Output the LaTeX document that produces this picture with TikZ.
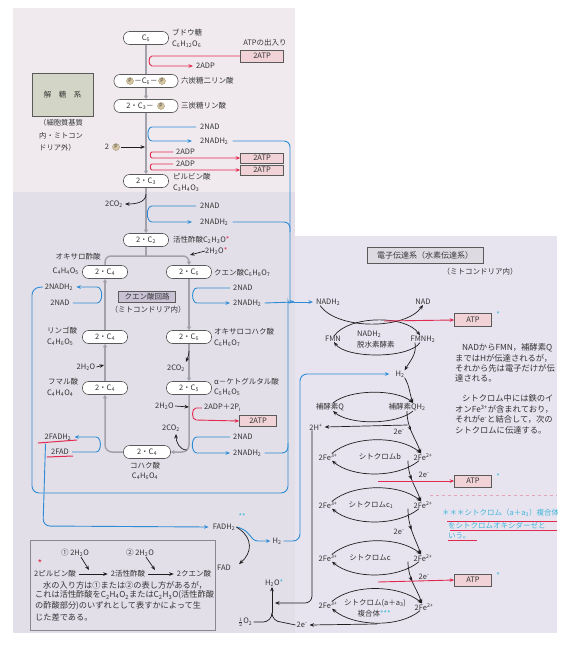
\documentclass[tikz,border=0pt]{standalone}
\usepackage{fontspec}
\setmainfont{Noto Sans CJK JP}
\usetikzlibrary{arrows.meta,decorations.markings}
\definecolor{txt}{HTML}{333333}
\definecolor{ndb}{HTML}{5A5A5A}
\definecolor{gline}{HTML}{A3A2AC}
\definecolor{blu}{HTML}{2E8BD6}
\definecolor{redl}{HTML}{E2294F}
\definecolor{ink}{HTML}{1E1E1E}
\definecolor{atpf}{HTML}{F1D3D7}
\definecolor{lav}{HTML}{C9C1D4}
\definecolor{kaif}{HTML}{D3D6C6}
\definecolor{titf}{HTML}{DEDAE2}
\definecolor{cyn}{HTML}{3FB4DA}
\definecolor{bgA}{HTML}{F0EAEF}
\definecolor{bgB}{HTML}{E2DFE8}
\definecolor{bgC}{HTML}{E7E4F0}
\definecolor{boxb}{HTML}{8A8790}
\definecolor{ptan}{HTML}{D8C6A2}
\newcommand{\sbs}[1]{\textsubscript{#1}}
\newcommand{\sps}[1]{\textsuperscript{#1}}
\begin{document}
\begin{tikzpicture}[x=1pt,y=1pt,
  lab/.style={inner sep=0pt,text=txt,font=\fontsize{7.5}{8}\selectfont},
  note/.style={inner sep=0pt,text=txt,anchor=west,font=\fontsize{8.3}{9}\selectfont},
  nd/.style={draw=ndb,fill=white,rounded corners=6pt,minimum height=13pt,inner sep=1pt,text=txt,font=\fontsize{7.5}{8}\selectfont,line width=0.6pt},
  atpbox/.style={draw=ndb,fill=atpf,minimum width=43pt,minimum height=10pt,inner sep=0pt,text=txt,font=\fontsize{7.5}{8}\selectfont,line width=0.6pt},
  pcirc/.style={circle,fill=ptan,draw=ptan!70!black,line width=0.3pt,inner sep=0pt,minimum size=7pt,font=\fontsize{5}{5}\selectfont,text=txt},
  gl/.style={draw=gline,line width=1.5pt},
  gar/.style={-{Triangle[length=3.5pt,width=4pt]}},
  bl/.style={draw=blu,line width=0.9pt},
  rl/.style={draw=redl,line width=0.9pt},
  kl/.style={draw=ink,line width=0.7pt},
  ar/.style={-{Stealth[length=4.5pt,width=3.6pt]}},
  midarr/.style={postaction={decorate},decoration={markings,mark=at position 0.45 with {\arrow{Stealth[length=4.5pt,width=3.6pt]}}}}
]
\useasboundingbox (0,0) rectangle (572,-645);
% backgrounds
\fill[bgA] (13,-8) rectangle (295,-192);
\fill[bgB] (13,-192) rectangle (295,-633);
\fill[bgC] (295,-236) rectangle (557,-633);

% ---------- glycolysis ----------
\node[draw=ndb,fill=kaif,minimum width=61pt,minimum height=43pt,inner sep=0pt,text=txt,font=\fontsize{7.5}{8}\selectfont,line width=0.6pt] (kai) at (62.5,-94.5) {解　糖　系};
\node[lab,anchor=west,font=\fontsize{7.3}{8}\selectfont] (kai1) at (39,-123) {（細胞質基質};
\node[lab,anchor=west,font=\fontsize{7.3}{8}\selectfont] (kai2) at (39,-136) {内・ミトコン};
\node[lab,anchor=west,font=\fontsize{7.3}{8}\selectfont] (kai3) at (39,-148) {ドリア外）};

\node[nd,minimum width=45pt] (c6) at (146,-38) {C\sbs{6}};
\node[lab,anchor=west] (glc) at (172,-33) {ブドウ糖};
\node[lab,anchor=west] (glcf) at (172,-44) {C\sbs{6}H\sbs{12}O\sbs{6}};
\node[lab] (atpio) at (265,-43) {ATPの出入り};
\node[atpbox,minimum height=12pt] (atp0) at (262,-56) {2ATP};
\node[lab,anchor=west] (adp0) at (196,-66) {2ADP};

\node[nd,minimum width=64pt] (pcp) at (146,-81) {};
\node[pcirc] (pa1) at (130,-81) {P};
\node[lab] (pcc) at (146,-81) {－C\sbs{6}－};
\node[pcirc] (pa2) at (162,-81) {P};
\node[lab,anchor=west] (pcpl) at (181,-81) {六炭糖二リン酸};

\node[nd,minimum width=64pt] (c3p) at (146,-106) {};
\node[lab] (c3t) at (140,-106) {2・C\sbs{3}－};
\node[pcirc] (pa3) at (161,-106) {P};
\node[lab,anchor=west] (c3l) at (181,-106) {三炭糖リン酸};

\node[lab,anchor=west] (nad1) at (200,-127) {2NAD};
\node[lab,anchor=west] (nadh1) at (200,-141) {2NADH\sbs{2}};
\node[lab] (two) at (107,-147) {2};
\node[pcirc] (pa4) at (116,-147) {P};
\node[lab,anchor=west] (adp1) at (176,-152) {2ADP};
\node[lab,anchor=west] (adp2) at (176,-164) {2ADP};
\node[atpbox] (atp1) at (262,-158) {2ATP};
\node[atpbox] (atp2) at (262,-170) {2ATP};

\node[nd,minimum width=45pt] (pyr) at (146,-181) {2・C\sbs{3}};
\node[lab,anchor=west] (pyrl) at (173,-177) {ピルビン酸};
\node[lab,anchor=west] (pyrf) at (173,-188) {C\sbs{3}H\sbs{4}O\sbs{3}};
\node[lab] (co2a) at (114,-204) {2CO\sbs{2}};
\node[lab,anchor=west] (nad2) at (200,-206) {2NAD};
\node[lab,anchor=west] (nadh2) at (200,-222) {2NADH\sbs{2}};
\node[nd,minimum width=45pt] (acet) at (146,-240) {2・C\sbs{2}};
\node[lab,anchor=west] (acetl) at (173,-240) {活性酢酸C\sbs{2}H\sbs{3}O\textcolor{redl}{*}};
\node[lab,anchor=west] (h2oa) at (205,-251) {2H\sbs{2}O\textcolor{redl}{*}};

% ---------- citric acid cycle ----------
\node[nd,minimum width=45pt] (oxa) at (105,-272) {2・C\sbs{4}};
\node[lab] (oxal) at (78,-257) {オキサロ酢酸};
\node[lab,anchor=east] (oxaf) at (79,-271) {C\sbs{4}H\sbs{4}O\sbs{5}};
\node[nd,minimum width=45pt] (cit) at (189,-272) {2・C\sbs{6}};
\node[lab,anchor=west] (citl) at (214,-273) {クエン酸C\sbs{6}H\sbs{8}O\sbs{7}};
\node[draw=ndb,fill=lav,minimum width=57pt,minimum height=11pt,inner sep=0pt,text=txt,font=\fontsize{7.5}{8}\selectfont,line width=0.6pt] (cycb) at (147,-297) {クエン酸回路};
\node[lab] (cycm) at (148,-310) {（ミトコンドリア内）};
\node[lab] (nadh4) at (59,-287) {2NADH\sbs{2}};
\node[lab] (nad4) at (60,-303) {2NAD};
\node[lab,anchor=west] (nad3) at (233,-288) {2NAD};
\node[lab,anchor=west] (nadh3) at (233,-303) {2NADH\sbs{2}};
\node[nd,minimum width=45pt] (mal) at (105,-337) {2・C\sbs{4}};
\node[lab,anchor=west] (mall) at (47,-331) {リンゴ酸};
\node[lab,anchor=west] (malf) at (47,-342) {C\sbs{4}H\sbs{6}O\sbs{5}};
\node[nd,minimum width=45pt] (oxs) at (189,-337) {2・C\sbs{6}};
\node[lab,anchor=west] (oxsl) at (214,-332) {オキサロコハク酸};
\node[lab,anchor=west] (oxsf) at (214,-343) {C\sbs{6}H\sbs{6}O\sbs{7}};
\node[lab] (h2ob) at (86,-367) {2H\sbs{2}O};
\node[lab] (co2b) at (176,-368) {2CO\sbs{2}};
\node[nd,minimum width=45pt] (fum) at (105,-388) {2・C\sbs{4}};
\node[lab,anchor=west] (fuml) at (48,-382) {フマル酸};
\node[lab,anchor=west] (fumf) at (47,-393) {C\sbs{4}H\sbs{4}O\sbs{4}};
\node[nd,minimum width=45pt] (akg) at (189,-388) {2・C\sbs{5}};
\node[lab,anchor=west] (akgl) at (214,-382) {α－ケトグルタル酸};
\node[lab,anchor=west] (akgf) at (214,-392) {C\sbs{5}H\sbs{6}O\sbs{5}};
\node[lab,anchor=west] (h2oc) at (155,-406) {2H\sbs{2}O};
\node[lab,anchor=west] (adp3) at (204,-408) {2ADP＋2P\sbs{i}};
\node[atpbox,minimum width=37pt,minimum height=11pt] (atp3) at (258,-421) {2ATP};
\node[lab] (co2c) at (171,-428) {2CO\sbs{2}};
\node[lab] (fadh) at (58,-437) {2FADH\sbs{2}};
\node[lab] (fad) at (60,-452) {2FAD};
\node[lab,anchor=west] (nad5) at (233,-437) {2NAD};
\node[lab,anchor=west] (nadh5) at (233,-453) {2NADH\sbs{2}};
\node[nd,minimum width=47pt] (suc) at (147,-452) {2・C\sbs{4}};
\node[lab] (sucl) at (145,-466) {コハク酸};
\node[lab] (sucf) at (145,-476) {C\sbs{4}H\sbs{6}O\sbs{4}};

\node[lab] (fadh2) at (224,-527) {FADH\sbs{2}};
\node[lab,text=cyn] (fst) at (242,-517) {**};
\node[lab] (h2m) at (277,-541) {H\sbs{2}};
\node[lab] (fad2) at (224,-568) {FAD};

% gray connectors
\draw[gl] (c6.south) -- (pcp.north);
\draw[gl,gar] (pcp.south) -- (c3p.north);
\draw[gl,gar] (c3p.south) -- (pyr.north);
\draw[gl,gar] (pyr.south) -- (acet.north);
\draw[gl] (acet.south) -- (146,-256);
\draw[gl,gar,rounded corners=6pt] (oxa.north) -- (105,-256) -- (189,-256) -- (cit.north);
\draw[gl,gar] (cit.south) -- (oxs.north);
\draw[gl,gar] (oxs.south) -- (akg.north);
\draw[gl,gar,rounded corners=7pt] (akg.south) -- (189,-452) -- (suc.east);
\draw[gl,gar,rounded corners=7pt] (suc.west) -- (105,-452) -- (fum.south);
\draw[gl,gar] (fum.north) -- (mal.south);
\draw[gl,gar] (mal.north) -- (oxa.south);

% red
\draw[rl,ar] (atp0.west) -- (152,-56) to[out=180,in=180] (152,-66) -- ([xshift=-3pt]adp0.west);
\draw[rl,ar] ([xshift=-3pt]adp1.west) -- (152,-152) to[out=180,in=180] (152,-158) -- (atp1.west);
\draw[rl,ar] ([xshift=-3pt]adp2.west) -- (152,-164) to[out=180,in=180] (152,-170) -- (atp2.west);
\draw[rl,ar] ([xshift=-2pt]adp3.west) -- (196,-408) to[out=180,in=180] (196,-420) -- (atp3.west);
\draw[rl,line width=1pt] (38,-443) -- (77,-440);
\draw[rl,line width=1pt] (47,-457) -- (73,-456);

% black small arrows
\draw[kl,ar] ([xshift=1pt]pa4.east) -- (145,-147);
\draw[kl,ar] (146,-194) to[out=-90,in=0] ([xshift=2pt]co2a.east);
\draw[kl,ar] (h2oa.west) -- (190,-255);
\draw[kl,ar] ([xshift=1pt]h2ob.east) -- (104,-365);
\draw[kl,ar] (189,-351) to[out=-90,in=70] (186,-362);
\draw[kl,ar] ([xshift=1pt]h2oc.east) -- (189,-407);
\draw[kl,ar] (187,-450) to[out=180,in=-90] (176,-434);

% blue
\coordinate (brace) at (294,-302);
\draw[bl,ar] ([xshift=-4pt]nad1.west) -- (152,-127) to[out=180,in=180] (152,-141) -- ([xshift=-8pt]nadh1.west);
\draw[bl,ar] ([xshift=-4pt]nad2.west) -- (152,-206) to[out=180,in=180] (152,-222) -- ([xshift=-8pt]nadh2.west);
\draw[bl,rounded corners=6pt] ([xshift=4pt]nadh1.east) -- (290,-141) -- (290,-296) to[out=-90,in=180] (brace);
\draw[bl,rounded corners=6pt] ([xshift=4pt]nadh2.east) -- (290,-222) -- (290,-232);
\draw[bl,ar] ([xshift=-3pt]nad3.west) -- (197,-288) to[out=180,in=180] (197,-303) -- ([xshift=-3pt]nadh3.west);
\draw[bl] ([xshift=3pt]nadh3.east) -- (brace);
\draw[bl,ar] ([xshift=3pt]nad4.east) -- (97,-303) to[out=0,in=0] (97,-287) -- ([xshift=3pt]nadh4.east);
\draw[bl,rounded corners=7pt] ([xshift=-2pt]nadh4.west) -- (32,-288) -- (32,-493) -- (288,-493) -- (288,-308) to[out=90,in=180] (brace);
\draw[bl,ar] ([xshift=-3pt]nad5.west) -- (197,-437) to[out=180,in=180] (197,-453) -- ([xshift=-3pt]nadh5.west);
\draw[bl,rounded corners=6pt] ([xshift=3pt]nadh5.east) -- (288,-453) -- (288,-443);
\draw[bl,ar] ([xshift=3pt]fad.east) -- (96,-452) to[out=0,in=0] (96,-437) -- ([xshift=3pt]fadh.east);
\draw[bl,ar,rounded corners=7pt] ([shift={(1pt,-3pt)}]fadh.south west) -- (43,-526) -- ([xshift=-4pt]fadh2.west);
\draw[bl,ar] ([xshift=1pt]fadh2.east) .. controls (251,-530) and (250,-541) .. (258,-541) -- ([xshift=-2pt]h2m.west);
\draw[kl,ar] ([xshift=1pt]fadh2.east) .. controls (254,-538) and (252,-553) .. ([shift={(8pt,1pt)}]fad2.north east);

% ---------- note box ----------
\node[draw=boxb,line width=0.6pt,minimum width=185pt,minimum height=90pt,inner sep=0pt] (notebox) at (122.5,-585) {};
\node[lab,font=\fontsize{7.5}{8}\selectfont] (w1) at (75,-553) {① 2H\sbs{2}O};
\node[lab,font=\fontsize{7.5}{8}\selectfont] (w2) at (140,-553) {② 2H\sbs{2}O};
\node[lab,text=redl,font=\fontsize{10}{10}\selectfont] (rs) at (40,-564) {*};
\node[lab,font=\fontsize{7.5}{8}\selectfont] (pa) at (55,-574) {2ピルビン酸};
\node[lab,font=\fontsize{7.5}{8}\selectfont] (pb) at (128,-574) {2活性酢酸};
\node[lab,font=\fontsize{7.5}{8}\selectfont] (pc2) at (194,-574) {2クエン酸};
\draw[kl,ar] ([xshift=3pt]pa.east) -- ([xshift=-3pt]pb.west);
\draw[kl,ar] ([xshift=3pt]pb.east) -- ([xshift=-3pt]pc2.west);
\draw[kl,ar] ([xshift=6pt]w1.south) -- (89,-570);
\draw[kl,ar] ([xshift=6pt]w2.south) -- (155,-570);
\node[note,font=\fontsize{8.2}{9}\selectfont] (n1) at (43,-585) {水の入り方は①または②の表し方があるが，};
\node[note,font=\fontsize{8.2}{9}\selectfont] (n2) at (35,-595) {これは活性酢酸をC\sbs{2}H\sbs{4}O\sbs{2}またはC\sbs{2}H\sbs{3}O(活性酢酸};
\node[note,font=\fontsize{8.2}{9}\selectfont] (n3) at (35,-606) {の酢酸部分)のいずれとして表すかによって生};
\node[note,font=\fontsize{8.2}{9}\selectfont] (n4) at (35,-617) {じた差である。};

% ---------- electron transport ----------
\node[draw=ndb,fill=titf,minimum width=116pt,minimum height=16pt,inner sep=0pt,font=\fontsize{8}{9}\selectfont,text=txt,line width=0.6pt] (etit) at (425,-255) {電子伝達系（水素伝達系）};
\node[lab,font=\fontsize{7.5}{8}\selectfont] (etim) at (480,-272) {（ミトコンドリア内）};
\node[lab,anchor=west] (nadhE) at (316,-302) {NADH\sbs{2}};
\node[lab] (nadE) at (423,-302) {NAD};
\node[atpbox,minimum width=37pt,minimum height=13pt] (atpE1) at (473,-320) {ATP};
\node[lab,text=cyn] (se1) at (498,-315) {*};
\node[lab] (fmn) at (333,-339) {FMN};
\node[lab] (fmnh) at (423,-339) {FMNH\sbs{2}};
\node[lab,anchor=west] (dh1) at (357,-334) {NADH\sbs{2}};
\node[lab,anchor=west] (dh2) at (357,-345) {脱水素酵素};
\node[lab] (h2e) at (400,-374) {H\sbs{2}};
\node[lab] (qL) at (330,-407) {補酵素Q};
\node[lab] (qR) at (407,-407) {補酵素QH\sbs{2}};
\node[lab] (h2p) at (316,-427) {2H\sps{+}};
\node[lab] (e1) at (399,-432) {2e\sps{-}};
\node[lab] (bL) at (328,-457) {2Fe\sps{3+}};
\node[lab] (bM) at (380,-457) {シトクロムb};
\node[lab] (bR) at (423,-457) {2Fe\sps{2+}};
\node[lab] (e2) at (424,-475) {2e\sps{-}};
\node[atpbox,minimum width=37pt,minimum height=12pt] (atpE2) at (473,-481) {ATP};
\node[lab,text=cyn] (se2) at (498,-477) {*};
\node[lab] (c1L) at (328,-505) {2Fe\sps{3+}};
\node[lab] (c1M) at (371,-505) {シトクロムc\sbs{1}};
\node[lab] (c1R) at (423,-505) {2Fe\sps{2+}};
\node[lab] (e3) at (399,-532) {2e\sps{-}};
\node[lab] (cL) at (328,-558) {2Fe\sps{3+}};
\node[lab] (cM) at (370,-558) {シトクロムc};
\node[lab] (cR) at (423,-558) {2Fe\sps{2+}};
\node[lab] (e4) at (424,-577) {2e\sps{-}};
\node[atpbox,minimum width=37pt,minimum height=12pt] (atpE3) at (473,-580) {ATP};
\node[lab,text=cyn] (se3) at (498,-576) {*};
\node[lab] (aL) at (328,-605) {2Fe\sps{3+}};
\node[lab] (aM1) at (375,-603) {シトクロム(a＋a\sbs{3})};
\node[lab] (aM2) at (374,-614) {複合体\textcolor{cyn}{***}};
\node[lab] (aR) at (424,-607) {2Fe\sps{2+}};
\node[lab] (e5) at (302,-625) {2e\sps{-}};
\node[lab,anchor=west] (h2o) at (265,-583) {H\sbs{2}O\textcolor{cyn}{*}};
\node[lab] (half) at (245,-622) {$\frac{1}{2}$O\sbs{2}};

% notes right
\begin{scope}
\clip (295,-236) rectangle (557,-633);
\node[note] (r1) at (462,-348) {NADからFMN，補酵素Q};
\node[note] (r2) at (455,-358) {まではHが伝達されるが，};
\node[note] (r3) at (455,-368) {それから先は電子だけが伝};
\node[note] (r4) at (455,-378) {達される。};
\node[note] (r5) at (462,-398) {シトクロム中には鉄のイ};
\node[note] (r6) at (455,-409) {オンFe\sps{3+}が含まれており，};
\node[note] (r7) at (455,-419) {それがe\sps{-}と結合して，次の};
\node[note] (r8) at (455,-430) {シトクロムに伝達する。};
\node[lab,anchor=west,text=cyn] (cy1) at (442,-513) {＊＊＊シトクロム（a＋a\sbs{3}）複合体};
\node[lab,anchor=west,text=cyn] (cy2) at (448,-526) {をシトクロムオキシダーゼと};
\node[lab,anchor=west,text=cyn] (cy3) at (448,-536) {いう。};
\draw[rl,line width=0.8pt] (447,-521) -- (557,-521);
\draw[rl,line width=0.8pt] (450,-530) -- (557,-530);
\draw[rl,line width=0.8pt] (448,-540) -- (477,-540);
\draw[draw=redl!35!bgC,line width=0.6pt,dashed] (430,-495) -- (557,-495);
\end{scope}

% ETC connectors
\draw[bl,ar] (brace) -- ([xshift=-3pt]nadhE.west);
\draw[kl,ar] ([xshift=-8pt]nadhE.south) to[out=-55,in=-125,looseness=0.75] (nadE.south);
\draw[kl,ar] ([xshift=1pt]fmn.north) to[out=55,in=125,looseness=0.75] ([xshift=-3pt]fmnh.north);
\draw[rl,ar] (384,-321) -- (atpE1.west);
\draw[kl,ar] ([xshift=-3pt]fmnh.south) to[out=-125,in=-55,looseness=0.6] ([xshift=1pt]fmn.south);
\draw[kl,ar] ([xshift=-8pt]fmnh.south) to[out=-80,in=60] (h2e.north east);
\draw[bl,ar,rounded corners=7pt] ([xshift=2pt]h2m.east) -- (300,-541) -- (300,-374) -- ([xshift=-6pt]h2e.west);
\draw[kl,ar] (h2e.south east) to[out=-60,in=110] ([xshift=6pt]qR.north);
\draw[kl,ar] ([xshift=3pt]qL.north) to[out=40,in=140,looseness=0.7] ([xshift=6pt]qR.north);
\draw[kl,ar] ([xshift=6pt]qR.south) to[out=-140,in=-40,looseness=0.7] ([xshift=3pt]qL.south);
\coordinate (qs) at (407.5,-425);
\draw[kl,ar] (qs) -- ([xshift=2pt]h2p.east);
\draw[kl,ar,midarr] (qR.south) to[out=-90,in=110] ([xshift=-2pt]bR.north);
% cyt b
\draw[kl,ar] ([xshift=4pt]bL.north) to[out=40,in=140,looseness=0.8] ([xshift=-2pt]bR.north);
\draw[kl,ar] ([xshift=-4pt]bR.south) to[out=-140,in=-40,looseness=0.8] ([xshift=4pt]bL.south);
\draw[kl,ar,midarr] ([xshift=-15pt]bR.south) to[out=-90,in=110] ([xshift=-2pt]c1R.north);
\draw[rl,ar] (378,-481) -- (atpE2.west);
% cyt c1
\draw[kl,ar] ([xshift=4pt]c1L.north) to[out=40,in=140,looseness=0.8] ([xshift=-2pt]c1R.north);
\draw[kl,ar] ([xshift=-4pt]c1R.south) to[out=-140,in=-40,looseness=0.8] ([xshift=4pt]c1L.south);
\draw[kl,ar,midarr] ([xshift=-15pt]c1R.south) to[out=-90,in=110] ([xshift=-2pt]cR.north);
% cyt c
\draw[kl,ar] ([xshift=4pt]cL.north) to[out=40,in=140,looseness=0.8] ([xshift=-2pt]cR.north);
\draw[kl,ar] ([xshift=-4pt]cR.south) to[out=-140,in=-40,looseness=0.8] ([xshift=4pt]cL.south);
\draw[kl,ar,midarr] ([xshift=-15pt]cR.south) to[out=-90,in=110] ([xshift=-2pt]aR.north);
\draw[rl,ar] (378,-582) -- (atpE3.west);
% cyt a
\draw[kl,ar] ([xshift=4pt]aL.north) to[out=40,in=140,looseness=0.8] ([xshift=-2pt]aR.north);
\draw[kl,ar] ([xshift=-4pt]aR.south) to[out=-140,in=-40,looseness=0.8] ([xshift=4pt]aL.south);
\draw[kl,ar] (377,-624) -- ([xshift=2pt]e5.east);
% water formation
\coordinate (jn) at (272,-613);
\draw[kl] ([xshift=1pt]half.east) -- (263,-622) to[out=0,in=-90] (jn);
\draw[kl] ([xshift=-1pt]e5.west) -- (281,-622) to[out=180,in=-90] (jn);
\draw[kl,ar] (jn) -- (jn |- h2o.south);
\draw[kl,ar,rounded corners=7pt] ([xshift=-4pt]h2p.south) -- (312,-603) -- (275,-603);
\end{tikzpicture}
\end{document}
